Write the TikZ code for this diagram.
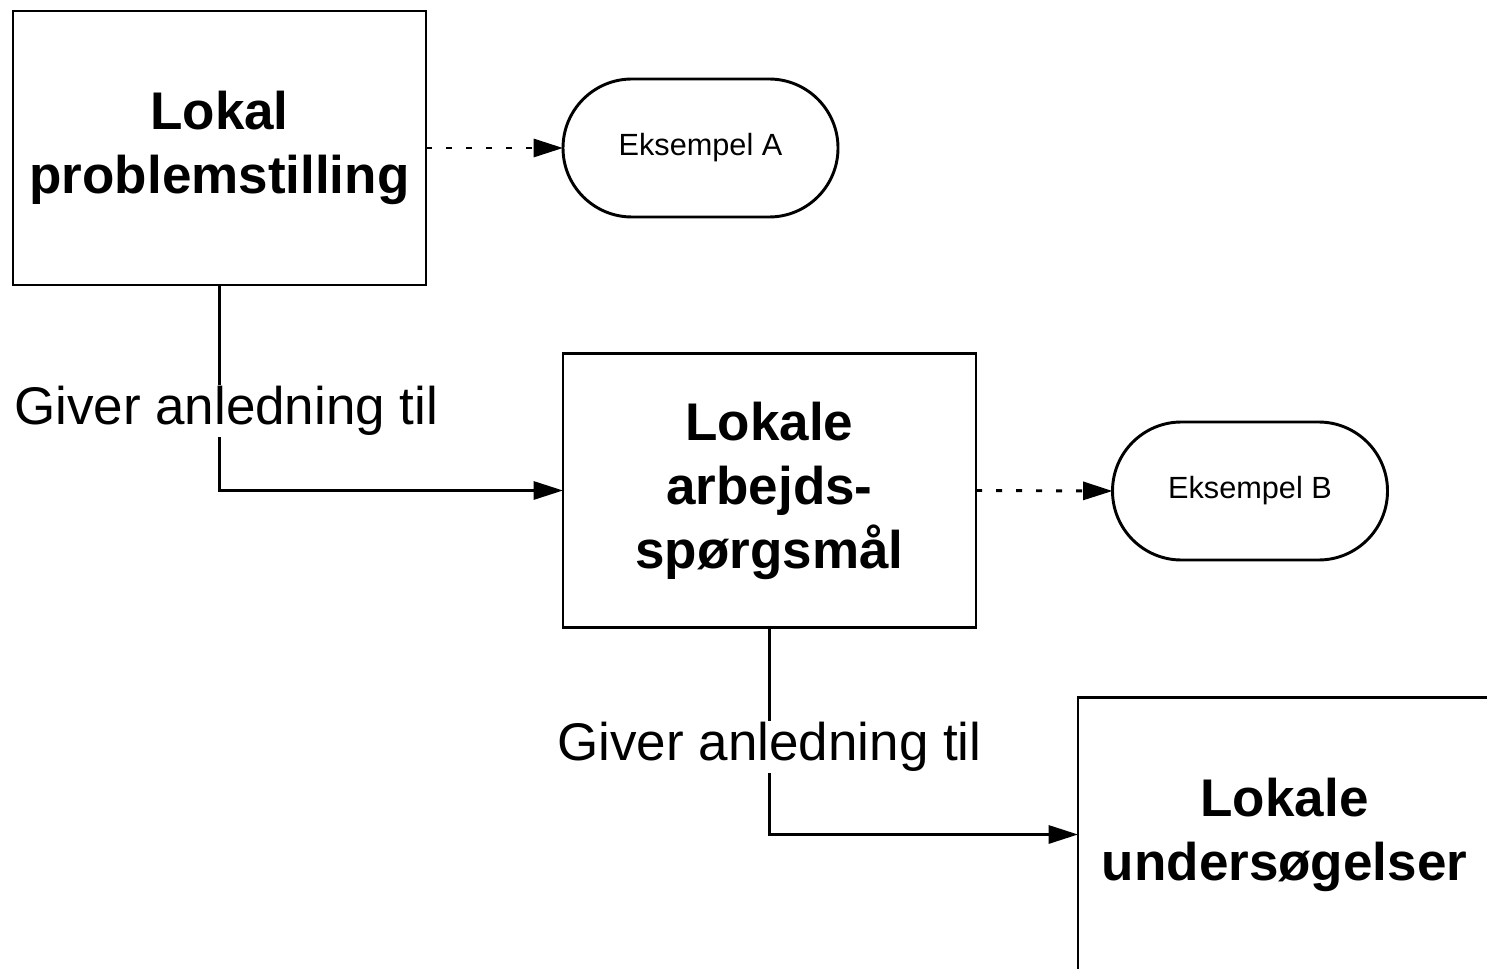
\documentclass[tikz,border=0pt]{standalone}
\usepackage{fontspec}
\setmainfont{Liberation Sans}
\usetikzlibrary{arrows.meta}
\begin{document}
\begin{tikzpicture}[x=0.75pt,y=-0.75pt,
  bigfont/.style={font=\fontsize{39.75}{48}\selectfont},
  box/.style={draw,line width=2.2pt,minimum width=309.75pt,minimum height=205.5pt,
    align=center,inner sep=0pt,outer sep=0pt,bigfont,font=\fontsize{39.75}{48}\selectfont\bfseries},
  stadium/.style={draw,line width=2.2pt,rounded corners=51.7pt,minimum width=206.25pt,
    minimum height=103.5pt,inner sep=0pt,outer sep=0pt,font=\fontsize{23}{27}\selectfont},
  conn/.style={line width=2.2pt,-{Triangle[length=22pt,width=13.5pt]}},
  dotconn/.style={conn,dash pattern=on 4.5pt off 10.5pt},
  lbl/.style={fill=white,inner sep=1pt,bigfont}]
\useasboundingbox (0,0) rectangle (1487,969);
\clip (0,0) rectangle (1487,969);
\node[box] (b1) at (219.5,148) {Lokal\\problemstilling};
\node[stadium] (ea) at (700.5,148) {Eksempel A};
\node[box] (b2) at (769.5,490.5) {Lokale\\arbejds-\\spørgsmål};
\node[stadium] (eb) at (1250,491) {Eksempel B};
\node[box] (b3) at (1284.5,834.5) {Lokale\\undersøgelser};
\draw[dotconn] (b1.east) -- (ea.west);
\draw[dotconn] (b2.east) -- (eb.west);
\draw[conn] (b1.south) |- (b2.west) node[lbl,pos=0.306,xshift=5pt] (l1) {Giver anledning til};
\draw[conn] (b2.south) |- (b3.west) node[lbl,pos=0.289] (l2) {Giver anledning til};
\end{tikzpicture}
\end{document}
